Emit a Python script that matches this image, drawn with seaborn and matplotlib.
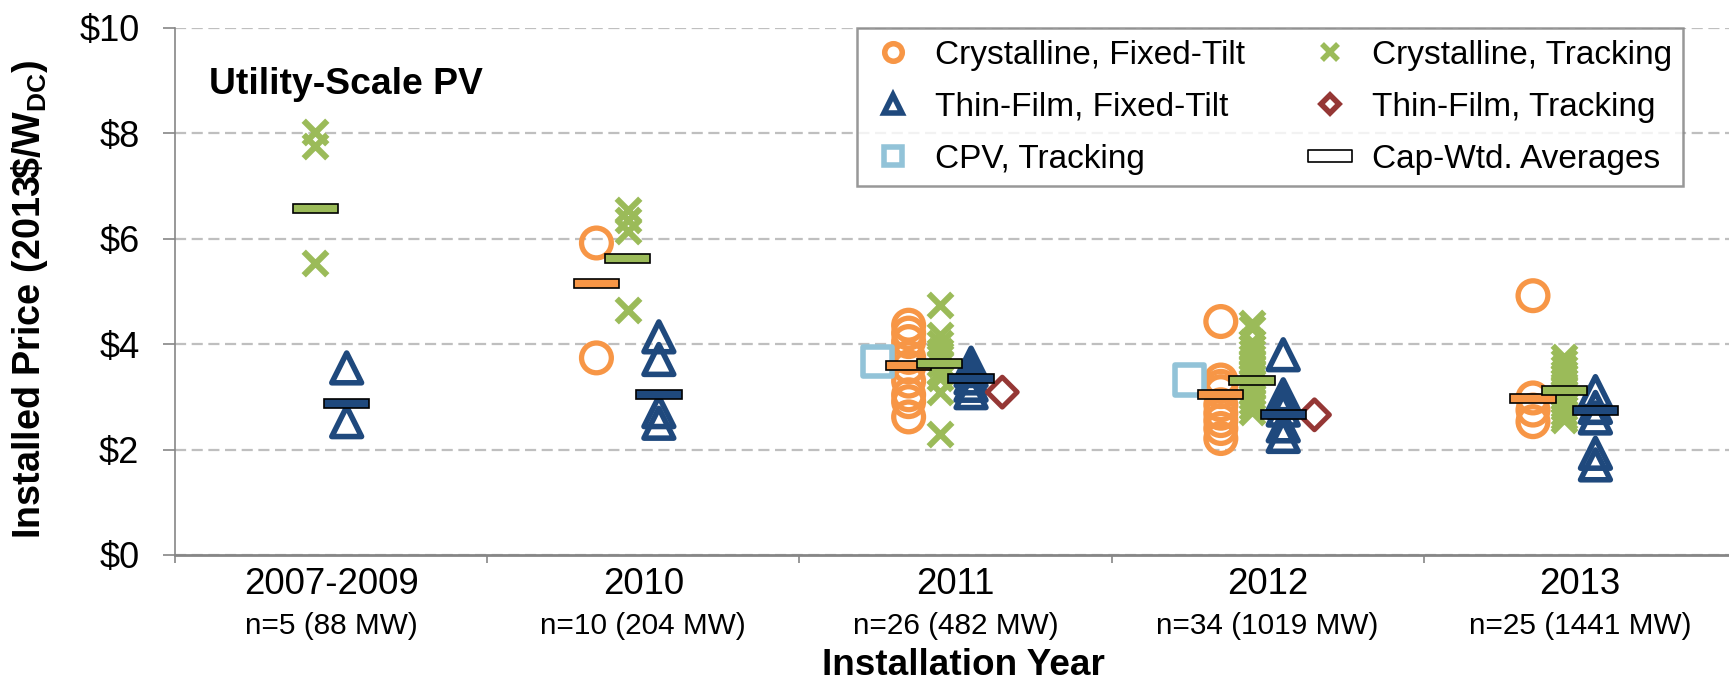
import numpy as np
import pandas as pd
import matplotlib.pyplot as plt
from matplotlib.lines import Line2D
from matplotlib.markers import MarkerStyle
from matplotlib.path import Path
import seaborn as sns

# categories / labels
years = ["2007-2009", "2010", "2011", "2012", "2013"]
counts = ["n=5 (88 MW)", "n=10 (204 MW)", "n=26 (482 MW)", "n=34 (1019 MW)", "n=25 (1441 MW)"]

# individual project prices (2013$/W_DC), one list per year
cryst_fixed = [
    [],
    [5.92, 3.74],
    [4.36, 4.21, 4.05, 3.75, 3.57, 3.30, 3.04, 2.91, 2.62],
    [4.43, 3.32, 3.20, 3.10, 2.85, 2.69, 2.55, 2.40, 2.21],
    [4.92, 2.98, 2.75, 2.53],
]
cryst_track = [
    [8.02, 7.77, 5.54],
    [6.55, 6.35, 6.14, 4.64],
    [4.74, 4.17, 4.02, 3.88, 3.75, 3.62, 3.48, 3.35, 3.10, 2.30],
    [4.40, 4.30, 4.05, 3.95, 3.85, 3.75, 3.65, 3.55, 3.45, 3.38, 3.30, 3.20, 3.10, 3.00, 2.90, 2.80, 2.72],
    [3.76, 3.66, 3.55, 3.45, 3.38, 3.30, 3.22, 3.15, 3.08, 3.00, 2.92, 2.85, 2.78, 2.70, 2.62, 2.56],
]
thin_fixed = [
    [3.55, 2.53],
    [4.14, 3.71, 2.72, 2.50],
    [3.64, 3.50, 3.36, 3.22, 3.08],
    [3.80, 3.04, 2.90, 2.75, 2.45, 2.25],
    [3.10, 2.80, 2.60, 1.93, 1.71],
]
thin_track = [[], [], [3.09], [2.66], []]
cpv_track = [[], [], [3.67], [3.32], []]

# capacity-weighted averages
avg_cryst_fixed = [np.nan, 5.16, 3.59, 3.04, 2.97]
avg_cryst_track = [6.57, 5.62, 3.64, 3.31, 3.13]
avg_thin_fixed = [2.88, 3.05, 3.34, 2.66, 2.74]

ORANGE = "#F79646"
GREEN = "#9BBB59"
BLUE = "#1F497D"
RED = "#953735"
LBLUE = "#92C3D8"
GRAY = "#868686"

# name, values, offset within year, marker, color, size, linewidth
series = [
    ("Crystalline, Fixed-Tilt", cryst_fixed, -0.15, "o", ORANGE, 115, 1.9),
    ("Crystalline, Tracking", cryst_track, -0.05, "x", GREEN, 72, 2.2),
    ("Thin-Film, Fixed-Tilt", thin_fixed, 0.05, "^", BLUE, 115, 2.0),
    ("Thin-Film, Tracking", thin_track, 0.15, "D", RED, 58, 1.8),
    ("CPV, Tracking", cpv_track, -0.25, "s", LBLUE, 115, 2.0),
]
averages = [
    (avg_cryst_fixed, -0.15, ORANGE),
    (avg_cryst_track, -0.05, GREEN),
    (avg_thin_fixed, 0.05, BLUE),
]

rows = []
for name, vals, off, *_ in series:
    for i, yv in enumerate(vals):
        for p in yv:
            rows.append({"series": name, "x": i + off, "price": p})
df = pd.DataFrame(rows)

sns.set_style("white")
plt.rcParams["font.family"] = ["Liberation Sans", "DejaVu Sans"]
plt.rcParams["mathtext.fontset"] = "custom"
plt.rcParams["mathtext.rm"] = "Liberation Sans"
plt.rcParams["mathtext.bf"] = "Liberation Sans:bold"
for key in ["text.color", "axes.labelcolor", "xtick.labelcolor", "ytick.labelcolor"]:
    plt.rcParams[key] = "black"

fig = plt.figure(figsize=(8.645, 3.42), dpi=200)
ax = fig.add_axes([0.1012, 0.1886, 0.9028, 0.7705])

for name, vals, off, mk, col, size, lw in series:
    sub = df[df["series"] == name]
    if mk == "x":
        m = "x"
    else:
        m = MarkerStyle(mk, fillstyle="none")
    sns.scatterplot(data=sub, x="x", y="price", marker=m, color=col, s=size,
                    linewidth=lw, joinstyle="round", ax=ax, zorder=3, legend=False)

for vals, off, col in averages:
    vals = np.array(vals)
    ax.bar(np.arange(len(years)) + off, 0.17, bottom=vals - 0.085, width=0.145,
           color=col, edgecolor="black", linewidth=0.6, zorder=4)

ax.set_xlim(-0.5, 4.5)
ax.set_ylim(0, 10)
ax.set_yticks(np.arange(0, 11, 2))
ax.set_yticklabels([r"\$%d" % v for v in np.arange(0, 11, 2)], fontsize=13)
ax.tick_params(axis="y", length=4.3, width=0.6, color=GRAY, labelcolor="black",
               pad=8.5, left=True)
ax.yaxis.grid(True, linestyle=(0, (5, 2.5)), color="#BFBFBF", linewidth=0.8)
ax.xaxis.grid(False)

ax.set_xticks(np.arange(-0.5, 5, 1))
ax.set_xticklabels([])
ax.tick_params(axis="x", which="major", length=3, width=0.6, color=GRAY, bottom=True)
ax.set_xticks(np.arange(len(years)), minor=True)
ax.set_xticklabels(years, minor=True, fontsize=13.2)
ax.tick_params(axis="x", which="minor", length=0, pad=4.3, labelcolor="black")

for i, c in enumerate(counts):
    ax.annotate(c, xy=(i, 0), xycoords=("data", "axes fraction"), xytext=(0, -25.6),
                textcoords="offset points", ha="center", va="center", fontsize=10.7,
                color="black")

for side in ["top", "right"]:
    ax.spines[side].set_visible(False)
ax.spines["left"].set_color(GRAY)
ax.spines["left"].set_linewidth(0.6)
ax.spines["bottom"].set_color(GRAY)
ax.spines["bottom"].set_linewidth(1.0)

ax.set_xlabel("Installation Year", fontsize=13.3, fontweight="bold", color="black")
ax.xaxis.set_label_coords(0.505, -0.243)
ax.xaxis.label.set_va("bottom")
ax.set_ylabel(r"Installed Price (2013\$/W$_{\mathbf{DC}}$)", fontsize=13.6,
              fontweight="bold", color="black")
ax.yaxis.set_label_coords(-0.0935, 0.486)
ax.yaxis.label.set_va("center")

ax.text(0.0215, 0.875, "Utility-Scale PV", transform=ax.transAxes, fontsize=13.4,
        fontweight="bold", va="baseline", ha="left", color="black")

rect = Path([(-1, -0.27), (1, -0.27), (1, 0.27), (-1, 0.27), (-1, -0.27)],
            [Path.MOVETO, Path.LINETO, Path.LINETO, Path.LINETO, Path.CLOSEPOLY])
handles = [
    Line2D([], [], ls="", marker="o", mfc="none", mec=ORANGE, mew=2, ms=6.3),
    Line2D([], [], ls="", marker="^", mfc="none", mec=BLUE, mew=2, ms=6.3),
    Line2D([], [], ls="", marker="s", mfc="none", mec=LBLUE, mew=2, ms=6.5),
    Line2D([], [], ls="", marker="x", color=GREEN, mew=2, ms=6),
    Line2D([], [], ls="", marker="D", mfc="none", mec=RED, mew=2, ms=4.8),
    Line2D([], [], ls="", marker=rect, mfc="white", mec="black", mew=0.6, ms=16),
]
labels = ["Crystalline, Fixed-Tilt", "Thin-Film, Fixed-Tilt", "CPV, Tracking",
          "Crystalline, Tracking", "Thin-Film, Tracking", "Cap-Wtd. Averages"]
leg = ax.legend(handles, labels, ncol=2, loc="upper center", bbox_to_anchor=(0.7015, 1.0),
                borderaxespad=0, fontsize=12, frameon=True, fancybox=False,
                handlelength=1.5, handletextpad=0.5, columnspacing=1.8,
                labelspacing=0.63, borderpad=0.35)
leg.get_frame().set_edgecolor("#7F7F7F")
leg.get_frame().set_linewidth(0.9)
for t in leg.get_texts():
    t.set_color("black")

fig.savefig("out.png", dpi=200)
